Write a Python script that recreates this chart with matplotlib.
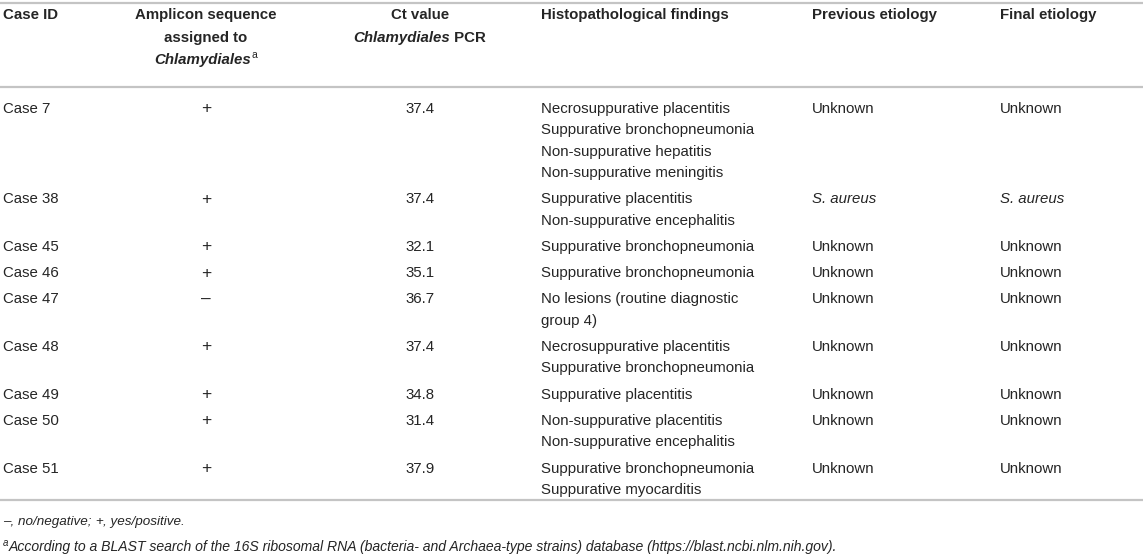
import matplotlib.pyplot as plt

# table content
case_ids = ["Case 7", "Case 38", "Case 45", "Case 46", "Case 47",
            "Case 48", "Case 49", "Case 50", "Case 51"]
amplicon = ["+", "+", "+", "+", "\u2013", "+", "+", "+", "+"]
ct_values = [37.4, 37.4, 32.1, 35.1, 36.7, 37.4, 34.8, 31.4, 37.9]
findings = [
    ["Necrosuppurative placentitis", "Suppurative bronchopneumonia",
     "Non-suppurative hepatitis", "Non-suppurative meningitis"],
    ["Suppurative placentitis", "Non-suppurative encephalitis"],
    ["Suppurative bronchopneumonia"],
    ["Suppurative bronchopneumonia"],
    ["No lesions (routine diagnostic", "group 4)"],
    ["Necrosuppurative placentitis", "Suppurative bronchopneumonia"],
    ["Suppurative placentitis"],
    ["Non-suppurative placentitis", "Non-suppurative encephalitis"],
    ["Suppurative bronchopneumonia", "Suppurative myocarditis"],
]
previous = ["Unknown", "S. aureus", "Unknown", "Unknown", "Unknown",
            "Unknown", "Unknown", "Unknown", "Unknown"]
final = ["Unknown", "S. aureus", "Unknown", "Unknown", "Unknown",
         "Unknown", "Unknown", "Unknown", "Unknown"]
footnote1 = [("\u2013, no/negative; ", "italic"), ("+", "normal"), (", yes/positive.", "italic")]
footnote2 = "According to a BLAST search of the 16S ribosomal RNA (bacteria- and Archaea-type strains) database (https://blast.ncbi.nlm.nih.gov)."

W, H = 1143, 559
FONT = ["Liberation Sans", "DejaVu Sans"]
TXT = "#252525"
RULE = "#c4c4c4"
FS = 10.8
FS_NOTE = 10.1

fig = plt.figure(figsize=(W / 100, H / 100), dpi=100)
ax = fig.add_axes([0, 0, 1, 1])
ax.set_xlim(0, W)
ax.set_ylim(H, 0)
ax.axis("off")
fig.canvas.draw()
renderer = fig.canvas.get_renderer()


def put(x, y, s, ha="left", weight="normal", style="normal", size=FS):
    return ax.text(x, y, s, ha=ha, va="center", fontsize=size, family=FONT,
                   fontweight=weight, fontstyle=style, color=TXT)


def runs(x, y, parts, ha="left"):
    # parts: list of (text, weight, style, size, dy)
    widths = []
    for s, wt, st, sz, dy in parts:
        t = put(0, 0, s, weight=wt, style=st, size=sz)
        bb = t.get_window_extent(renderer)
        widths.append(bb.width)
        t.remove()
    total = sum(widths)
    if ha == "center":
        x = x - total / 2
    for (s, wt, st, sz, dy), w in zip(parts, widths):
        put(x, y + dy, s, weight=wt, style=st, size=sz)
        x += w


# column positions
x_case, x_amp, x_ct, x_hist, x_prev, x_fin = 3, 206, 420, 541, 812, 1000

# rules
for yy in (3, 87, 500):
    ax.plot([0, W], [yy, yy], color=RULE, lw=1.6, solid_capstyle="butt")

# header
put(x_case, 15, "Case ID", weight="bold")
put(x_amp, 15, "Amplicon sequence", ha="center", weight="bold")
put(x_amp, 38, "assigned to", ha="center", weight="bold")
runs(x_amp, 60, [("Chlamydiales", "bold", "italic", FS, 0),
                 ("a", "normal", "normal", 7.5, -5)], ha="center")
put(x_ct, 15, "Ct value", ha="center", weight="bold")
runs(x_ct, 38, [("Chlamydiales", "bold", "italic", FS, 0),
                (" PCR", "bold", "normal", FS, 0)], ha="center")
put(x_hist, 15, "Histopathological findings", weight="bold")
put(x_prev, 15, "Previous etiology", weight="bold")
put(x_fin, 15, "Final etiology", weight="bold")

# body
line_h = 21.3
row_gap = 26.3
y = 109
for i in range(len(case_ids)):
    put(x_case, y, case_ids[i])
    put(x_amp, y, amplicon[i], ha="center", size=12.5)
    put(x_ct, y, f"{ct_values[i]:.1f}", ha="center")
    for k, line in enumerate(findings[i]):
        put(x_hist, y + k * line_h, line)
    st_p = "italic" if previous[i] != "Unknown" else "normal"
    st_f = "italic" if final[i] != "Unknown" else "normal"
    put(x_prev, y, previous[i], style=st_p)
    put(x_fin, y, final[i], style=st_f)
    y += (len(findings[i]) - 1) * line_h + row_gap

# footnotes
runs(3, 522, [(s, "normal", st, FS_NOTE - 0.4, 0) for s, st in footnote1])
runs(3, 547, [("a", "normal", "italic", 7, -4),
              (footnote2, "normal", "italic", FS_NOTE, 0)])

fig.savefig("out.png", dpi=100)
